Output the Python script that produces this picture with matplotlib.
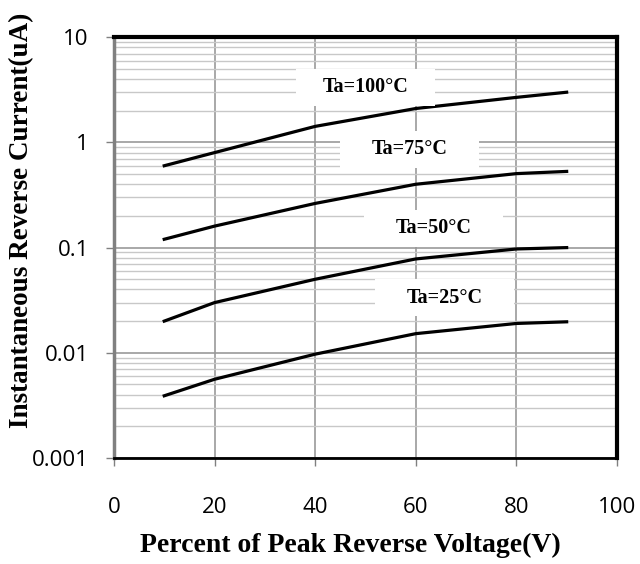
import numpy as np
import matplotlib.pyplot as plt

# 反向电流特性曲线数据
x = [10, 20, 40, 60, 80, 90]
i_100 = [0.6, 0.8, 1.42, 2.1, 2.68, 3.0]
i_75 = [0.12, 0.16, 0.263, 0.40, 0.505, 0.53]
i_50 = [0.02, 0.03, 0.05, 0.078, 0.097, 0.10]
i_25 = [0.0039, 0.0056, 0.0097, 0.0152, 0.019, 0.0197]
labels = ['Ta=100°C', 'Ta=75°C', 'Ta=50°C', 'Ta=25°C']
label_pos = [(50, 3.34), (58.8, 0.857), (63.6, 0.152), (65.8, 0.0334)]

fig = plt.figure(figsize=(6.4, 5.64), dpi=100)
ax = fig.add_axes([0.178, 0.188, 0.786, 0.746])

for y in [i_100, i_75, i_50, i_25]:
    ax.plot(x, y, color='black', lw=2.3, zorder=3)

ax.set_yscale('log')
ax.set_xlim(0, 100)
ax.set_ylim(0.001, 10)
ax.set_xticks(range(0, 101, 20))
ax.set_yticks([0.001, 0.01, 0.1, 1, 10])
ax.set_yticklabels(['0.001', '0.01', '0.1', '1', '10'])
ax.grid(True, which='major', axis='both', color='#999999', lw=1.2)
ax.grid(True, which='minor', axis='y', color='#c8c8c8', lw=1.0)
ax.tick_params(which='minor', length=0)
ax.tick_params(which='major', length=6, width=1, color='#808080', direction='out',
               labelsize=16)
ax.tick_params(axis='x', pad=22)
ax.tick_params(axis='y', pad=12)
for t in ax.get_xticklabels() + ax.get_yticklabels():
    t.set_family('Open Sans')

for s in ['top', 'right']:
    ax.spines[s].set_linewidth(3)
ax.spines['bottom'].set_linewidth(2)
ax.spines['left'].set_linewidth(2.5)
ax.spines['left'].set_color('#808080')

# 标签白底框（横向留白更宽）
for lab, (px, py) in zip(labels, label_pos):
    ax.text(px, py, lab, ha='center', va='center', fontsize=14.5, fontweight='bold',
            family='Liberation Serif', zorder=4,
            bbox=dict(boxstyle='square,pad=0.35', facecolor='white', edgecolor='none'))
    ax.text(px, py, '\u2003' * 6, ha='center', va='center', fontsize=14.5, zorder=3.5,
            bbox=dict(boxstyle='square,pad=0.45', facecolor='white', edgecolor='none'))

ax.set_xlabel('Percent of Peak Reverse Voltage(V)', fontsize=20, fontweight='bold',
              family='Liberation Serif')
ax.set_ylabel('Instantaneous Reverse Current(uA)', fontsize=19.5, fontweight='bold',
              family='Liberation Serif')
ax.xaxis.set_label_coords(0.471, -0.178)
ax.yaxis.set_label_coords(-0.159, 0.565)

plt.savefig('out.png')
